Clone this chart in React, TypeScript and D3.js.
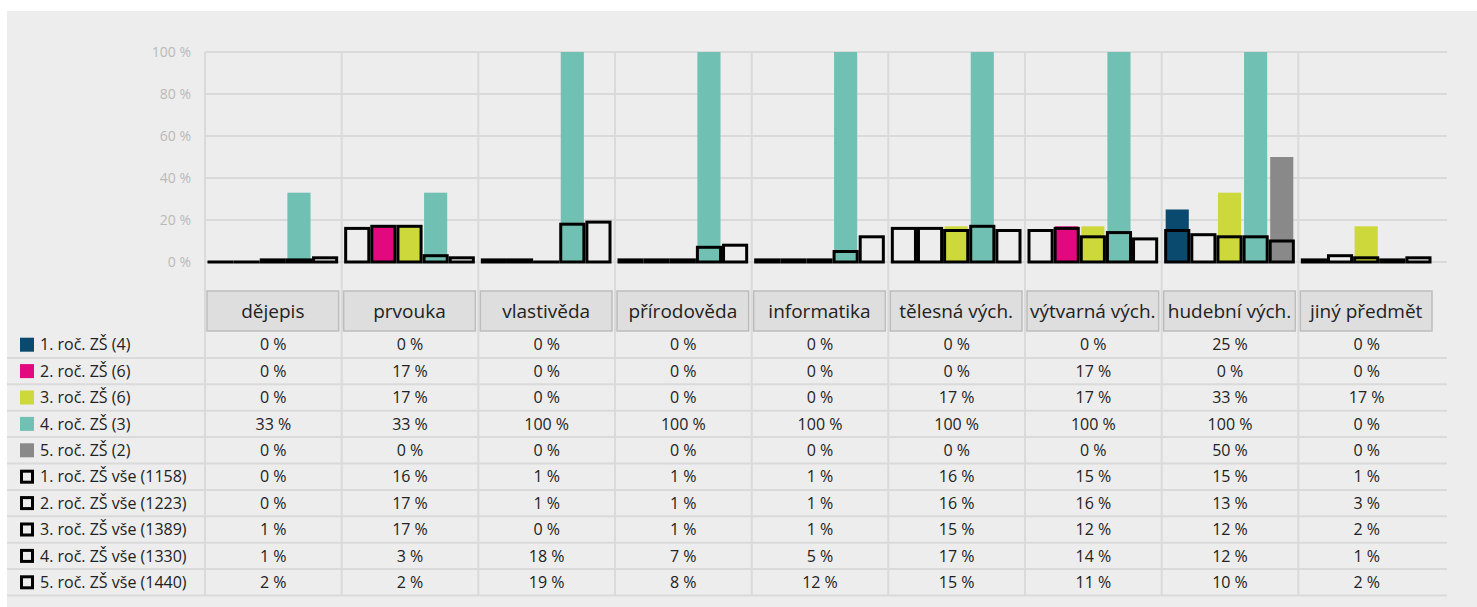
import React from 'react';
import * as d3 from 'd3';

// categories (school subjects)
const categories = [
  'dějepis', 'prvouka', 'vlastivěda', 'přírodověda', 'informatika',
  'tělesná vých.', 'výtvarná vých.', 'hudební vých.', 'jiný předmět',
];

// sample series (filled bars)
const sampleNames = ['1. roč. ZŠ (4)', '2. roč. ZŠ (6)', '3. roč. ZŠ (6)', '4. roč. ZŠ (3)', '5. roč. ZŠ (2)'];
const sampleColors = ['#0a4a6e', '#e2097e', '#cdd83a', '#70c1b3', '#898989'];
const grade1 = [0, 0, 0, 0, 0, 0, 0, 25, 0];
const grade2 = [0, 17, 0, 0, 0, 0, 17, 0, 0];
const grade3 = [0, 17, 0, 0, 0, 17, 17, 33, 17];
const grade4 = [33, 33, 100, 100, 100, 100, 100, 100, 0];
const grade5 = [0, 0, 0, 0, 0, 0, 0, 50, 0];

// overall series (outlined bars)
const allNames = ['1. roč. ZŠ vše (1158)', '2. roč. ZŠ vše (1223)', '3. roč. ZŠ vše (1389)', '4. roč. ZŠ vše (1330)', '5. roč. ZŠ vše (1440)'];
const all1 = [0, 16, 1, 1, 1, 16, 15, 15, 1];
const all2 = [0, 17, 1, 1, 1, 16, 16, 13, 3];
const all3 = [1, 17, 0, 1, 1, 15, 12, 12, 2];
const all4 = [1, 3, 18, 7, 5, 17, 14, 12, 1];
const all5 = [2, 2, 19, 8, 12, 15, 11, 10, 2];

const yTicks = [0, 20, 40, 60, 80, 100];

const sampleSeries = [grade1, grade2, grade3, grade4, grade5];
const allSeries = [all1, all2, all3, all4, all5];

const W = 1477;
const H = 607;
const FONT = '"Open Sans", "Noto Sans", sans-serif';

export default function App() {
  const x0 = d3.scaleBand<string>().domain(categories).range([205, 1435]);
  const x1 = d3.scaleBand<number>().domain([0, 1, 2, 3, 4]).range([3, x0.bandwidth() - 3]);
  const y = d3.scaleLinear().domain([0, 100]).range([262, 52]);
  const gridRight = 1447;

  const rowTop = 331.5;
  const rowH = 26.4;
  const rows = [
    ...sampleNames.map((n, i) => ({ name: n, values: sampleSeries[i], color: sampleColors[i], outline: false })),
    ...allNames.map((n, i) => ({ name: n, values: allSeries[i], color: '#000', outline: true })),
  ];
  const tableBottom = rowTop + rows.length * rowH;

  const barX = (c: string, i: number) => (x0(c) ?? 0) + (x1(i) ?? 0) + 1;
  const barW = x1.bandwidth() - 3;

  return (
    <svg width={W} height={H} style={{ position: 'absolute', left: 0, top: 0 }} fontFamily={FONT}>
      <rect x={0} y={0} width={W} height={H} fill="#fff" />
      <rect x={7} y={11} width={W - 7} height={H - 11} fill="#ededed" />

      {/* horizontal gridlines + y labels */}
      {yTicks.map(t => (
        <g key={t}>
          <line x1={205} x2={gridRight} y1={y(t)} y2={y(t)} stroke="#dadada" strokeWidth={2} />
          <text x={191} y={y(t)} dy="0.35em" textAnchor="end" fontSize={14} fill="#b9b9b9">{`${t} %`}</text>
        </g>
      ))}

      {/* vertical separators through chart and table */}
      {categories.map(c => (
        <line key={c} x1={x0(c)} x2={x0(c)} y1={y(100)} y2={tableBottom} stroke="#dadada" strokeWidth={2} />
      ))}

      {/* table row lines */}
      {rows.map((r, i) => (
        <line key={r.name} x1={7} x2={gridRight} y1={rowTop + (i + 1) * rowH} y2={rowTop + (i + 1) * rowH} stroke="#dadada" strokeWidth={2} />
      ))}

      {/* filled sample bars */}
      {sampleSeries.map((vals, i) => (
        <g key={`s${i}`} fill={sampleColors[i]}>
          {categories.map((c, j) => vals[j] > 0 ? (
            <rect key={c} x={barX(c, i)} y={y(vals[j])} width={barW} height={y(0) - y(vals[j])} />
          ) : null)}
        </g>
      ))}

      {/* outlined overall bars */}
      {allSeries.map((vals, i) => (
        <g key={`a${i}`}>
          {categories.map((c, j) => vals[j] > 0 ? (
            <rect key={c} x={barX(c, i)} y={y(vals[j])} width={barW} height={y(0) - y(vals[j])}
              fill="none" stroke="#000" strokeWidth={3} />
          ) : (
            <rect key={c} x={barX(c, i) - 1.5} y={y(0) - 1.5} width={barW + 3} height={3} fill="#000" />
          ))}
        </g>
      ))}

      {/* category header boxes */}
      {categories.map(c => (
        <g key={`h${c}`}>
          <rect x={(x0(c) ?? 0) + 2} y={291} width={x0.bandwidth() - 5} height={40} fill="#dedede" stroke="#bdbdbd" strokeWidth={1.5} />
          <text x={(x0(c) ?? 0) + x0.bandwidth() / 2 - 0.5} y={311} dy="0.35em" textAnchor="middle" fontSize={19} fill="#222">{c}</text>
        </g>
      ))}

      {/* table body */}
      {rows.map((r, i) => {
        const cy = rowTop + i * rowH + rowH / 2;
        return (
          <g key={`r${r.name}`}>
            {r.outline ? (
              <rect x={21.5} y={cy - 5.5} width={11} height={11} fill="none" stroke="#000" strokeWidth={3} />
            ) : (
              <rect x={20} y={cy - 7} width={14} height={14} fill={r.color} />
            )}
            <text x={40} y={cy} dy="0.35em" fontSize={16} fill="#222">{r.name}</text>
            {categories.map((c, j) => (
              <text key={c} x={(x0(c) ?? 0) + x0.bandwidth() / 2} y={cy} dy="0.35em" textAnchor="middle" fontSize={16} fill="#222">
                {`${r.values[j]} %`}
              </text>
            ))}
          </g>
        );
      })}
    </svg>
  );
}
